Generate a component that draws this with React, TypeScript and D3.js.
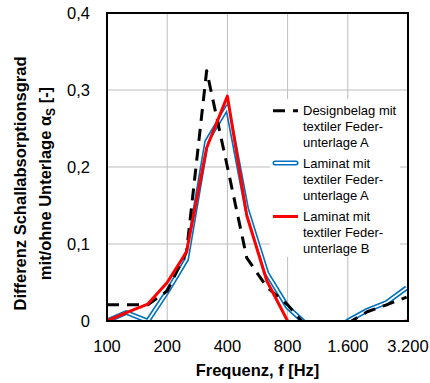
import React from "react";
import * as d3 from "d3";

const freqs = [100, 125, 160, 200, 250, 315, 400, 500, 630, 800, 1000, 1250, 1600, 2000, 2500, 3150];
const designA = [0.021, 0.021, 0.021, 0.039, 0.09, 0.325, 0.2, 0.082, 0.044, 0.021, -0.008, -0.02, -0.003, 0.012, 0.021, 0.031];
const laminatA = [0.0, 0.011, 0.0, 0.038, 0.08, 0.233, 0.278, 0.145, 0.062, 0.018, -0.005, -0.02, 0.0, 0.014, 0.024, 0.043];
const laminatB = [0.0, 0.011, 0.022, 0.05, 0.09, 0.225, 0.292, 0.137, 0.052, 0.0, -0.01, -0.02, -0.02, -0.015, -0.005, 0.0];

const xTicks = [100, 200, 400, 800, 1600, 3200];
const xTickLabels = ["100", "200", "400", "800", "1.600", "3.200"];
const yTicks = [0, 0.1, 0.2, 0.3, 0.4];
const yTickLabels = ["0", "0,1", "0,2", "0,3", "0,4"];

const legendItems = [
  { key: "design", lines: ["Designbelag mit", "textiler Feder-", "unterlage A"] },
  { key: "lamA", lines: ["Laminat mit", "textiler Feder-", "unterlage A"] },
  { key: "lamB", lines: ["Laminat mit", "textiler Feder-", "unterlage B"] },
];

const FONT = "'Liberation Sans', Arial, sans-serif";

export default function App() {
  const L = 107, R = 408, T = 13, B = 321;
  const x = d3.scaleLog().domain([100, 3200]).range([L, R]);
  const y = d3.scaleLinear().domain([0, 0.4]).range([B, T]);
  const line = d3
    .line<number>()
    .x((_, i) => x(freqs[i]))
    .y((d) => y(d));

  const grid = "#bdbdbd";
  const blue = "#0070c0";
  const red = "#ff0000";

  const legendX0 = 273, legendX1 = 298, textX = 303;
  const legendY = [110.7, 163, 216.5];

  return (
    <svg width={430} height={383} style={{ position: "absolute", left: 0, top: 0, background: "#fff" }} fontFamily={FONT}>
      <defs>
        <clipPath id="plotclip">
          <rect x={L} y={T} width={R - L} height={B - T} />
        </clipPath>
      </defs>
      <rect x={0} y={0} width={430} height={383} fill="#fff" />
      {/* gridlines */}
      {yTicks.slice(1, -1).map((t) => (
        <line key={"gy" + t} x1={L} x2={R} y1={y(t)} y2={y(t)} stroke={grid} strokeWidth={1} />
      ))}
      {xTicks.slice(1, -1).map((t) => (
        <line key={"gx" + t} x1={x(t)} x2={x(t)} y1={T} y2={B} stroke={grid} strokeWidth={1} />
      ))}
      {/* legend background */}
      <rect x={270} y={99} width={130} height={158} fill="#fff" />
      {/* series */}
      <g clipPath="url(#plotclip)" fill="none" strokeLinejoin="round">
        <path d={line(laminatA) || ""} stroke={blue} strokeWidth={5} />
        <path d={line(laminatA) || ""} stroke="#fff" strokeWidth={1.8} />
        <path d={line(designA) || ""} stroke="#000" strokeWidth={3} strokeDasharray="12,8" />
        <path d={line(laminatB) || ""} stroke={red} strokeWidth={3} />
      </g>
      {/* frame */}
      <rect x={L} y={T} width={R - L} height={B - T} fill="none" stroke="#000" strokeWidth={2} />
      {/* y tick labels */}
      {yTicks.map((t, i) => (
        <text key={"yl" + t} x={90} y={y(t)} dy="0.35em" textAnchor="end" fontSize={16.5} fill="#000">
          {yTickLabels[i]}
        </text>
      ))}
      {/* x tick labels */}
      {xTicks.map((t, i) => (
        <text key={"xl" + t} x={x(t)} y={352} textAnchor="middle" fontSize={16.5} fill="#000">
          {xTickLabels[i]}
        </text>
      ))}
      {/* axis titles */}
      <text x={(L + R) / 2} y={376} textAnchor="middle" fontSize={16.5} fontWeight="bold" fill="#000">
        Frequenz, f [Hz]
      </text>
      <g transform="translate(25.5,183.5) rotate(-90)">
        <text x={0} y={0} textAnchor="middle" fontSize={16.5} fontWeight="bold" fill="#000">
          Differenz Schallabsorptionsgrad
        </text>
      </g>
      <g transform="translate(50.5,183.5) rotate(-90)">
        <text x={0} y={0} textAnchor="middle" fontSize={16.5} fontWeight="bold" fill="#000">
          mit/ohne Unterlage α
          <tspan dy={4} fontSize={12}>S</tspan>
          <tspan dy={-4}> [-]</tspan>
        </text>
      </g>
      {/* legend */}
      <line x1={legendX0} x2={legendX1} y1={legendY[0]} y2={legendY[0]} stroke="#000" strokeWidth={3} strokeDasharray="12,8" />
      <line x1={legendX0 + 2} x2={legendX1 - 2} y1={legendY[1]} y2={legendY[1]} stroke={blue} strokeWidth={5} strokeLinecap="round" />
      <line x1={legendX0 + 2} x2={legendX1 - 2} y1={legendY[1]} y2={legendY[1]} stroke="#fff" strokeWidth={1.8} strokeLinecap="round" />
      <line x1={legendX0} x2={legendX1} y1={legendY[2]} y2={legendY[2]} stroke={red} strokeWidth={3} />
      {legendItems.map((item, k) => (
        <text key={item.key} x={textX} y={legendY[k] + 4.7} fontSize={13} fill="#000">
          {item.lines.map((ln, j) => (
            <tspan key={j} x={textX} dy={j === 0 ? 0 : 16}>
              {ln}
            </tspan>
          ))}
        </text>
      ))}
    </svg>
  );
}
